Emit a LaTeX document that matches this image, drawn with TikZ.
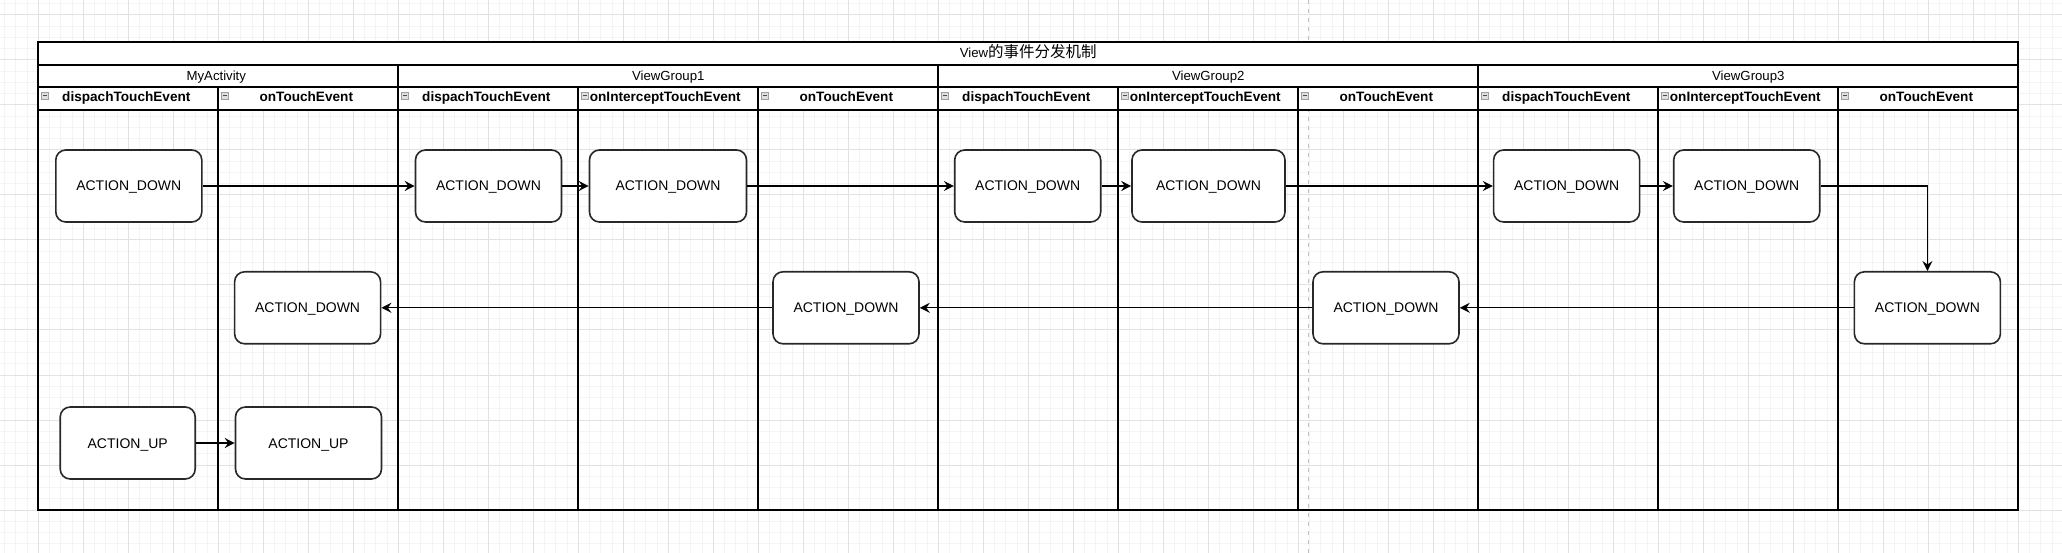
\documentclass[tikz,border=0pt]{standalone}
\usepackage{fontspec}
\setmainfont{Liberation Sans}
\newfontfamily\cjk{Noto Sans CJK SC}
\usepackage{tikz}
\usetikzlibrary{arrows.meta}
\usepackage{xcolor}
\definecolor{gridminor}{RGB}{244,244,244}
\definecolor{gridmajor}{RGB}{226,226,226}
\definecolor{boxline}{RGB}{40,40,40}

\begin{document}
\begin{tikzpicture}[x=1pt, y=-1pt,
    evbox/.style={draw=boxline, line width=1.6pt, fill=white, rounded corners=10pt,
      minimum width=146pt, minimum height=72pt, inner sep=0pt,
      text height=10pt, text depth=0pt, font=\fontsize{14}{16}\selectfont},
    flow/.style={line width=1.4pt, -{Stealth[length=10pt, width=10pt, inset=3.5pt]}},
    lane/.style={line width=1.7pt},
    pool/.style={anchor=base, font=\fontsize{13.2}{15}\selectfont},
    head/.style={anchor=base, font=\bfseries\fontsize{13.6}{16}\selectfont}]

  \useasboundingbox (0,0) rectangle (2062,553);

  % Сетка
  \foreach \i in {1,...,183} \draw[gridminor, line width=1pt] ({-6.7+11.25*\i},0) -- ({-6.7+11.25*\i},553);
  \foreach \i in {0,...,48} \draw[gridminor, line width=1pt] (0,{3.75+11.25*\i}) -- (2062,{3.75+11.25*\i});
  \foreach \i in {0,...,44} \draw[gridmajor, line width=1pt] ({38.3+45*\i},0) -- ({38.3+45*\i},553);
  \foreach \i in {0,...,11} \draw[gridmajor, line width=1pt] (0,{15+45*\i}) -- (2062,{15+45*\i});

  % Граница страницы
  \draw[black!25, line width=1pt, dash pattern=on 4pt off 5pt] (1308.3,0) -- (1308.3,553);

  % Таблица
  \fill[white] (38.3,42.3) rectangle (2018.3,109.8);
  \draw[lane] (38.3,42.3) rectangle (2018.3,510);
  \draw[lane] (38.3,64.8) -- (2018.3,64.8);
  \draw[lane] (38.3,87.3) -- (2018.3,87.3);
  \draw[lane] (38.3,109.8) -- (2018.3,109.8);
  \foreach \x in {398.3,938.3,1478.3} \draw[lane] (\x,64.8) -- (\x,510);
  \foreach \x in {218.3,578.3,758.3,1118.3,1298.3,1658.3,1838.3} \draw[lane] (\x,87.3) -- (\x,510);

  % Значки сворачивания
  \foreach \x in {38.3,218.3,398.3,578.3,758.3,938.3,1118.3,1298.3,1478.3,1658.3,1838.3} {
    \filldraw[fill=gray!25, draw=gray!75, line width=0.8pt] ({\x+3.4},92.7) rectangle ({\x+9.8},99.3);
    \draw[black!70, line width=1pt] ({\x+5},96) -- ({\x+8.2},96);
  }

  % Заголовки
  \node[anchor=base, font=\fontsize{13.2}{15}\selectfont] (title) at (1028.3,58) {View{\cjk\fontsize{15.5}{17}\selectfont 的事件分发机制}};
  \node[pool] (p1) at (216.3,80.5) {MyActivity};
  \node[pool] (p2) at (668.3,80.5) {ViewGroup1};
  \node[pool] (p3) at (1208.3,80.5) {ViewGroup2};
  \node[pool] (p4) at (1748.3,80.5) {ViewGroup3};

  \node[head] (h1) at (126.3,101.3) {dispachTouchEvent};
  \node[head] (h2) at (306.3,101.3) {onTouchEvent};
  \node[head] (h3) at (486.3,101.3) {dispachTouchEvent};
  \node[head] (h4) at (665.3,101.3) {onInterceptTouchEvent};
  \node[head] (h5) at (846.3,101.3) {onTouchEvent};
  \node[head] (h6) at (1026.3,101.3) {dispachTouchEvent};
  \node[head] (h7) at (1205.3,101.3) {onInterceptTouchEvent};
  \node[head] (h8) at (1386.3,101.3) {onTouchEvent};
  \node[head] (h9) at (1566.3,101.3) {dispachTouchEvent};
  \node[head] (h10) at (1745.3,101.3) {onInterceptTouchEvent};
  \node[head] (h11) at (1926.3,101.3) {onTouchEvent};

  % События
  \node[evbox] (actDispDown) at (128.8,186) {ACTION\_DOWN};
  \node[evbox] (vg1DispDown) at (488.5,186) {ACTION\_DOWN};
  \node[evbox, minimum width=157pt] (vg1InterDown) at (668,186) {ACTION\_DOWN};
  \node[evbox] (vg2DispDown) at (1027.7,186) {ACTION\_DOWN};
  \node[evbox, minimum width=153pt] (vg2InterDown) at (1208.5,186) {ACTION\_DOWN};
  \node[evbox] (vg3DispDown) at (1566.6,186) {ACTION\_DOWN};
  \node[evbox] (vg3InterDown) at (1746.7,186) {ACTION\_DOWN};

  \node[evbox] (actTouchDown) at (307.6,307.8) {ACTION\_DOWN};
  \node[evbox] (vg1TouchDown) at (846,307.8) {ACTION\_DOWN};
  \node[evbox] (vg2TouchDown) at (1386,307.8) {ACTION\_DOWN};
  \node[evbox] (vg3TouchDown) at (1927.4,307.8) {ACTION\_DOWN};

  \node[evbox, minimum width=135pt] (actDispUp) at (127.7,443) {ACTION\_UP};
  \node[evbox] (actTouchUp) at (308.5,443) {ACTION\_UP};

  % Стрелки
  \draw[flow] (actDispDown) -- (vg1DispDown);
  \draw[flow] (vg1DispDown) -- (vg1InterDown);
  \draw[flow] (vg1InterDown) -- (vg2DispDown);
  \draw[flow] (vg2DispDown) -- (vg2InterDown);
  \draw[flow] (vg2InterDown) -- (vg3DispDown);
  \draw[flow] (vg3DispDown) -- (vg3InterDown);
  \draw[flow] (vg3InterDown.east) -| (vg3TouchDown.north);
  \draw[flow] (vg3TouchDown) -- (vg2TouchDown);
  \draw[flow] (vg2TouchDown) -- (vg1TouchDown);
  \draw[flow] (vg1TouchDown) -- (actTouchDown);
  \draw[flow] (actDispUp) -- (actTouchUp);

\end{tikzpicture}
\end{document}
